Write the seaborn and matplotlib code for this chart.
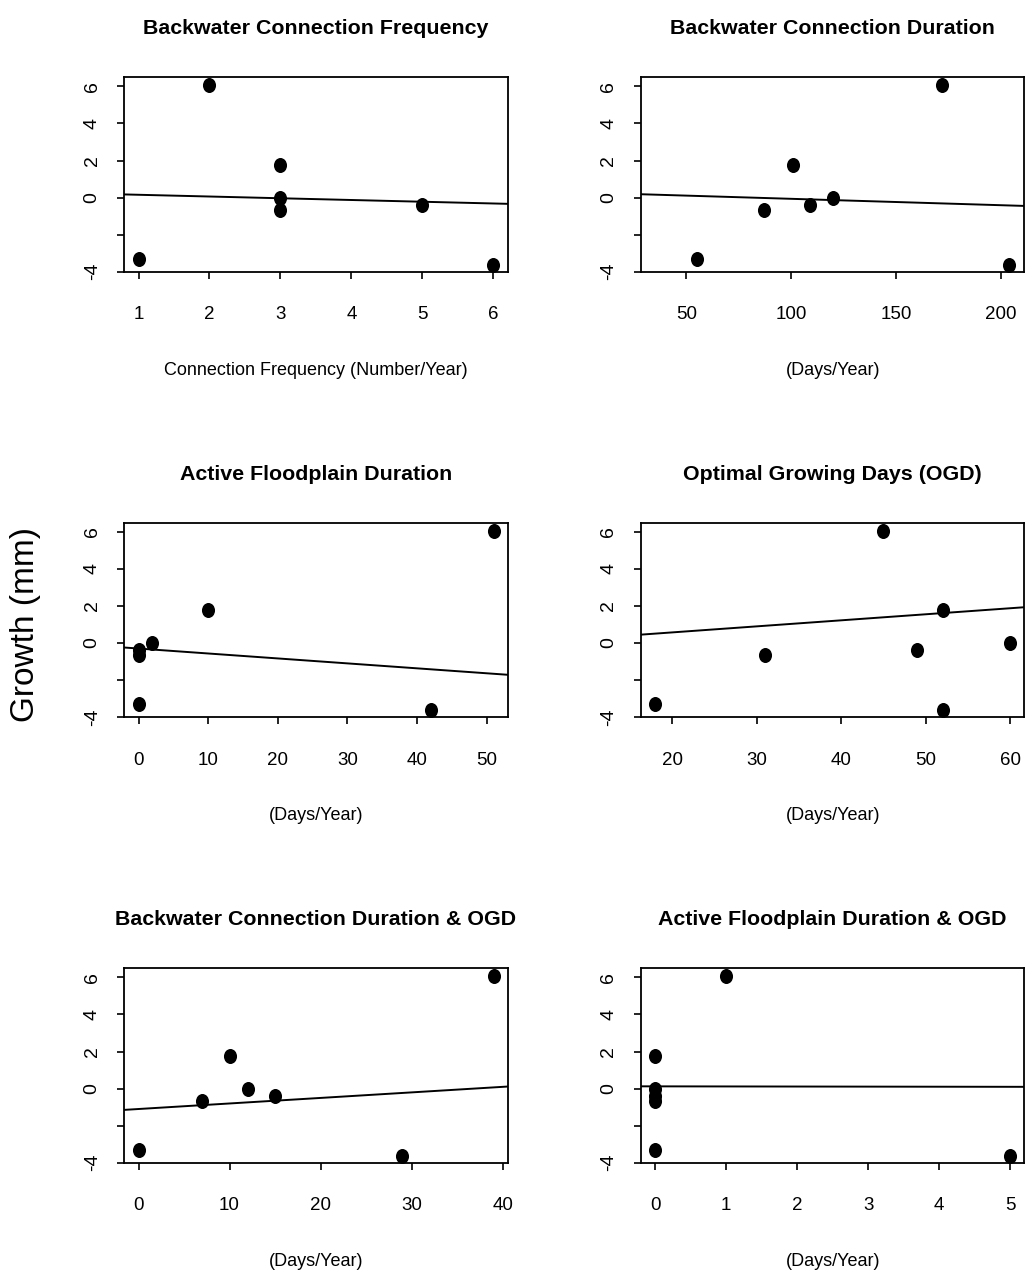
import matplotlib
matplotlib.use("Agg")
import matplotlib.pyplot as plt
from matplotlib.path import Path
from matplotlib.transforms import Affine2D
import seaborn as sns

# ------------------------------
# Podaci (ocitano sa slike)
# ------------------------------
growth = [6.05, 1.78, 0.0, -0.38, -0.65, -3.32, -3.63]

conn_freq = [2, 3, 3, 5, 3, 1, 6]
conn_dur = [172, 101, 120, 109, 87, 55, 204]
afp_dur = [51, 10, 2, 0, 0, 0, 42]
ogd_days = [45, 52, 60, 49, 31, 18, 52]
conn_ogd = [39, 10, 12, 15, 7, 0, 29]
afp_ogd = [1, 0, 0, 0, 0, 0, 5]

titles = [
    "Backwater Connection Frequency",
    "Backwater Connection Duration",
    "Active Floodplain Duration",
    "Optimal Growing Days (OGD)",
    "Backwater Connection Duration & OGD",
    "Active Floodplain Duration & OGD",
]
xlabels = [
    "Connection Frequency (Number/Year)",
    "(Days/Year)", "(Days/Year)", "(Days/Year)", "(Days/Year)", "(Days/Year)",
]

# fitted lines (intercept, slope)
line_intercept = [0.245, 0.278, -0.30, -0.082, -1.103, 0.12]
line_slope = [-0.094, -0.00345, -0.0267, 0.0326, 0.0299, -0.005]

xlims = [(0.8, 6.2), (28.4, 211.2), (-2.04, 53.04), (16.32, 61.68), (-1.56, 40.56), (-0.2, 5.2)]
xticks = [
    [1, 2, 3, 4, 5, 6],
    [50, 100, 150, 200],
    [0, 10, 20, 30, 40, 50],
    [20, 30, 40, 50, 60],
    [0, 10, 20, 30, 40],
    [0, 1, 2, 3, 4, 5],
]
yticks = [-4, -2, 0, 2, 4, 6]
ytick_labels = ["-4", "", "0", "2", "4", "6"]
ylim = (-3.99, 6.49)

xs = [conn_freq, conn_dur, afp_dur, ogd_days, conn_ogd, afp_ogd]

# ------------------------------
# Stil
# ------------------------------
sns.set_theme(style="white")
plt.rcParams['font.family'] = ['Liberation Sans', 'DejaVu Sans']

W, H = 1025, 1272
fig = plt.figure(figsize=(W / 100, H / 100), dpi=100)

# ellipticni marker (malo visi nego siri)
ellipse = Path.unit_circle().transformed(Affine2D().scale(0.87, 1.0))

col_left = [124.3, 641.0]
row_top = [77.3, 522.7, 968.3]
ax_w, ax_h = 383.4, 194.4

for i in range(6):
    r, c = divmod(i, 2)
    left = col_left[c] / W
    bottom = 1 - (row_top[r] + ax_h) / H
    ax = fig.add_axes([left, bottom, ax_w / W, ax_h / H])

    sns.scatterplot(x=xs[i], y=growth, ax=ax, marker=ellipse, s=117,
                    color="black", edgecolor="black", linewidth=0, zorder=3)
    ax.axline((0, line_intercept[i]), slope=line_slope[i], color="black", lw=1.4)

    ax.set_xlim(*xlims[i])
    ax.set_ylim(*ylim)
    ax.set_xticks(xticks[i])
    ax.set_xticklabels([str(t) for t in xticks[i]], fontsize=13.5)
    ax.set_yticks(yticks)
    ax.set_yticklabels(ytick_labels, fontsize=14, rotation=90, va="center")

    ax.tick_params(axis="both", direction="out", length=5, width=1.2,
                   color="black", labelcolor="black", bottom=True, left=True)
    ax.tick_params(axis="x", pad=20)
    ax.tick_params(axis="y", pad=12)

    for sp in ax.spines.values():
        sp.set_visible(True)
        sp.set_color("black")
        sp.set_linewidth(1.3)

    ax.set_title(titles[i], fontsize=15.4, fontweight="bold", pad=31, color="black")
    ax.set_xlabel(xlabels[i], fontsize=13, color="black")
    ax.xaxis.set_label_coords(0.5, -0.465)
    ax.set_ylabel("")

fig.text(26 / W, 1 - 625 / H, "Growth (mm)", rotation=90, ha="center", va="center",
         fontsize=24, color="black")

fig.savefig("out.png", dpi=100, facecolor="white")
